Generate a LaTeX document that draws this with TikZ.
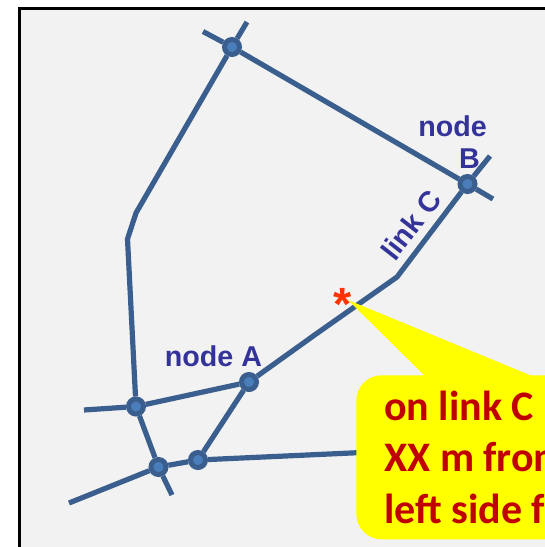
\documentclass[tikz,border=0pt]{standalone}
\usepackage{fontspec}
\usepackage{xcolor}
\setmainfont{Liberation Sans}
\newfontfamily\calloutfont{Carlito}
\definecolor{linkblue}{HTML}{3A5F8E}
\definecolor{junctionblue}{HTML}{4A7EBB}
\definecolor{labelblue}{HTML}{333399}
\definecolor{calloutred}{HTML}{C00000}
\definecolor{calloutyellow}{HTML}{FFFF00}
\definecolor{starred}{HTML}{FF3300}
\definecolor{panelgray}{HTML}{F2F2F2}
\usetikzlibrary{positioning}

\tikzset{
    link/.style={draw=linkblue, line width=3.9pt},
    junction/.style={circle, fill=junctionblue, draw=linkblue, line width=3.75pt, inner sep=0pt, minimum size=11.25pt},
    netlabel/.style={text=labelblue, font=\fontsize{21.5}{25}\selectfont\bfseries, align=center, inner sep=0pt},
}

\begin{document}
\begin{tikzpicture}[x=0.75pt, y=-0.75pt]
        \useasboundingbox (0,0) rectangle (545,547);
        \clip (0,0) rectangle (545,547);
        \draw[fill=panelgray, line width=2.4pt] (19.5,8.5) rectangle (620,620);

        \coordinate (topstub1) at (203,31.5);
        \coordinate (topstub2) at (247,22);
        \coordinate (bstub1) at (490,156);
        \coordinate (bstub2) at (493,199);
        \coordinate (weststub) at (84,410);
        \coordinate (southstub1) at (69,503);
        \coordinate (southstub2) at (172,495);
        \coordinate (bendA) at (136,213);
        \coordinate (bendB) at (127.5,239);
        \coordinate (bendC) at (397,277);
        \coordinate (bendD) at (316,334);
        \coordinate (eastend) at (362,452.5);

        \node[junction] (top) at (232,47) {};
        \node[junction] (nodeB) at (467.5,184) {};
        \node[junction] (nodeA) at (249,382) {};
        \node[junction] (west) at (136,406.5) {};
        \node[junction] (south) at (158.5,467) {};
        \node[junction] (east) at (198,460) {};

        \path[link]
        (top) edge (topstub1)
              edge (topstub2)
              edge (nodeB)
        (nodeB) edge (bstub1)
                edge (bstub2)
        (west) edge (weststub)
               edge (nodeA)
               edge (south)
        (south) edge (southstub1)
                edge (southstub2)
                edge (east)
        (nodeA) edge (east)
        (east) edge (eastend);
        \draw[link] (top) -- (bendA) -- (bendB) -- (west);
        \draw[link] (nodeB) -- (bendC) -- (bendD) -- (nodeA);

        \node[netlabel, anchor=base] (labelA) at (213.5,366) {node A};
        \node[netlabel, anchor=base] (labelBtop) at (452.5,136) {node};
        \node[netlabel, anchor=base] (labelBbottom) at (469.5,168) {B};
        \node[netlabel, rotate=52] (labelC) at (411,225) {link C};

        % callout
        \node[fill=calloutyellow, rounded corners=19pt, anchor=north west, minimum width=198pt, minimum height=123pt] (callout) at (356,375) {};
        \fill[calloutyellow] (348,300) -- (425,376) -- (532,376) -- cycle;
        \node[anchor=base west, inner sep=0pt, text=calloutred, font=\calloutfont\fontsize{31.5}{38.6}\selectfont\bfseries, align=left] (calloutText) at (384,523) {on link C\\XX m from\\left side f};
        \node[text=starred, font=\fontsize{35}{35}\selectfont\bfseries, inner sep=0pt] (star) at (343,304) {*};
\end{tikzpicture}
\end{document}
